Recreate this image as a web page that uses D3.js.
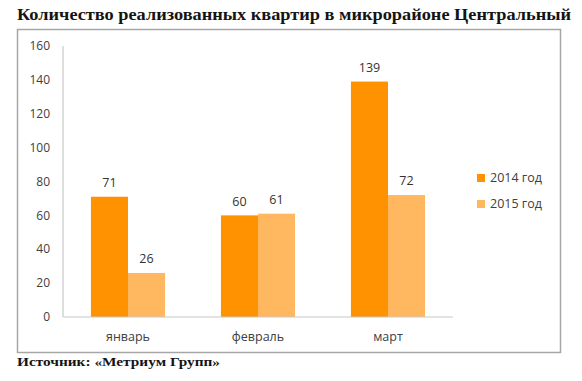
<!DOCTYPE html>
<html>
<head>
<meta charset="utf-8">
<script src="https://cdn.jsdelivr.net/npm/d3@7"></script>
<style>
  body { margin: 0; background: #fff; }
  svg { display: block; }
</style>
</head>
<body>
<svg id="visualization" width="582" height="381"></svg>
<script>
const months = ["январь", "февраль", "март"];
const seriesNames = ["2014 год", "2015 год"];
const values2014 = [71, 60, 139];
const values2015 = [26, 61, 72];
const yTicks = [0, 20, 40, 60, 80, 100, 120, 140, 160];
const colours = ["#ff9200", "#ffb860"];

const titleText = "Количество реализованных квартир в микрорайоне Центральный";
const sourceText = "Источник: «Метриум Групп»";

const svg = d3.select("#visualization");

// frame around chart
svg.append("rect")
    .attr("x", 17.5).attr("y", 29.5)
    .attr("width", 543).attr("height", 323)
    .attr("fill", "#fff")
    .attr("stroke", "#a6a6a6")
    .attr("stroke-width", 1.5);

// title
const title = svg.append("text")
    .attr("x", 17).attr("y", 20)
    .attr("font-family", "Liberation Serif, serif")
    .attr("font-weight", "bold")
    .attr("font-size", 17)
    .attr("fill", "#141414")
    .text(titleText);
title.attr("textLength", 554).attr("lengthAdjust", "spacingAndGlyphs");

svg.append("text")
    .attr("x", 17).attr("y", 366)
    .attr("font-family", "Liberation Serif, serif")
    .attr("font-weight", "bold")
    .attr("font-size", 13)
    .attr("fill", "#141414")
    .attr("textLength", 203).attr("lengthAdjust", "spacingAndGlyphs")
    .text(sourceText);

const plot = { left: 63, right: 453, top: 46, bottom: 317 };

const x = d3.scaleBand()
    .domain(months)
    .range([plot.left, plot.right])
    .paddingInner(0.43)
    .paddingOuter(0.215);
const xSub = d3.scaleBand()
    .domain(seriesNames)
    .range([0, x.bandwidth()]);
const y = d3.scaleLinear()
    .domain([0, 160])
    .range([plot.bottom, plot.top]);

const data = months.map((m, i) => ({
    month: m,
    values: [
        { series: seriesNames[0], value: values2014[i], colour: colours[0] },
        { series: seriesNames[1], value: values2015[i], colour: colours[1] }
    ]
}));

// y axis tick labels
svg.selectAll(".y-label")
    .data(yTicks)
    .join("text")
    .attr("class", "y-label")
    .attr("x", 50)
    .attr("y", d => y(d))
    .attr("dy", "0.35em")
    .attr("text-anchor", "end")
    .attr("font-family", "Open Sans, sans-serif")
    .attr("font-size", 12)
    .attr("fill", "#404040")
    .text(d => d);

// bars
const groups = svg.selectAll(".group")
    .data(data)
    .join("g")
    .attr("class", "group")
    .attr("transform", d => `translate(${x(d.month)},0)`);

groups.selectAll("rect")
    .data(d => d.values)
    .join("rect")
    .attr("x", d => xSub(d.series))
    .attr("y", d => y(d.value))
    .attr("width", xSub.bandwidth())
    .attr("height", d => y(0) - y(d.value))
    .attr("fill", d => d.colour);

groups.selectAll(".value-label")
    .data(d => d.values)
    .join("text")
    .attr("class", "value-label")
    .attr("x", d => xSub(d.series) + xSub.bandwidth() / 2)
    .attr("y", d => y(d.value) - 14)
    .attr("dy", "0.35em")
    .attr("text-anchor", "middle")
    .attr("font-family", "Open Sans, sans-serif")
    .attr("font-size", 12.5)
    .attr("fill", "#333")
    .text(d => d.value);

// axis lines
svg.append("line")
    .attr("x1", plot.left).attr("x2", plot.left)
    .attr("y1", plot.top).attr("y2", plot.bottom)
    .attr("stroke", "#c8c8c8").attr("stroke-width", 1.2);
svg.append("line")
    .attr("x1", plot.left).attr("x2", plot.right)
    .attr("y1", plot.bottom).attr("y2", plot.bottom)
    .attr("stroke", "#c8c8c8").attr("stroke-width", 1.2);

// month labels
svg.selectAll(".x-label")
    .data(months)
    .join("text")
    .attr("class", "x-label")
    .attr("x", d => x(d) + x.bandwidth() / 2)
    .attr("y", 337)
    .attr("dy", "0.35em")
    .attr("text-anchor", "middle")
    .attr("font-family", "Open Sans, sans-serif")
    .attr("font-size", 12.5)
    .attr("fill", "#404040")
    .text(d => d);

// legend
const legend = svg.selectAll(".legend")
    .data(seriesNames)
    .join("g")
    .attr("class", "legend")
    .attr("transform", (_, i) => `translate(477,${178 + i * 26})`);
legend.append("rect")
    .attr("x", 0).attr("y", -4)
    .attr("width", 8).attr("height", 8)
    .attr("fill", (_, i) => colours[i]);
legend.append("text")
    .attr("x", 13)
    .attr("y", 0)
    .attr("dy", "0.35em")
    .attr("font-family", "Open Sans, sans-serif")
    .attr("font-size", 12.5)
    .attr("fill", "#404040")
    .text(d => d);
</script>
</body>
</html>
